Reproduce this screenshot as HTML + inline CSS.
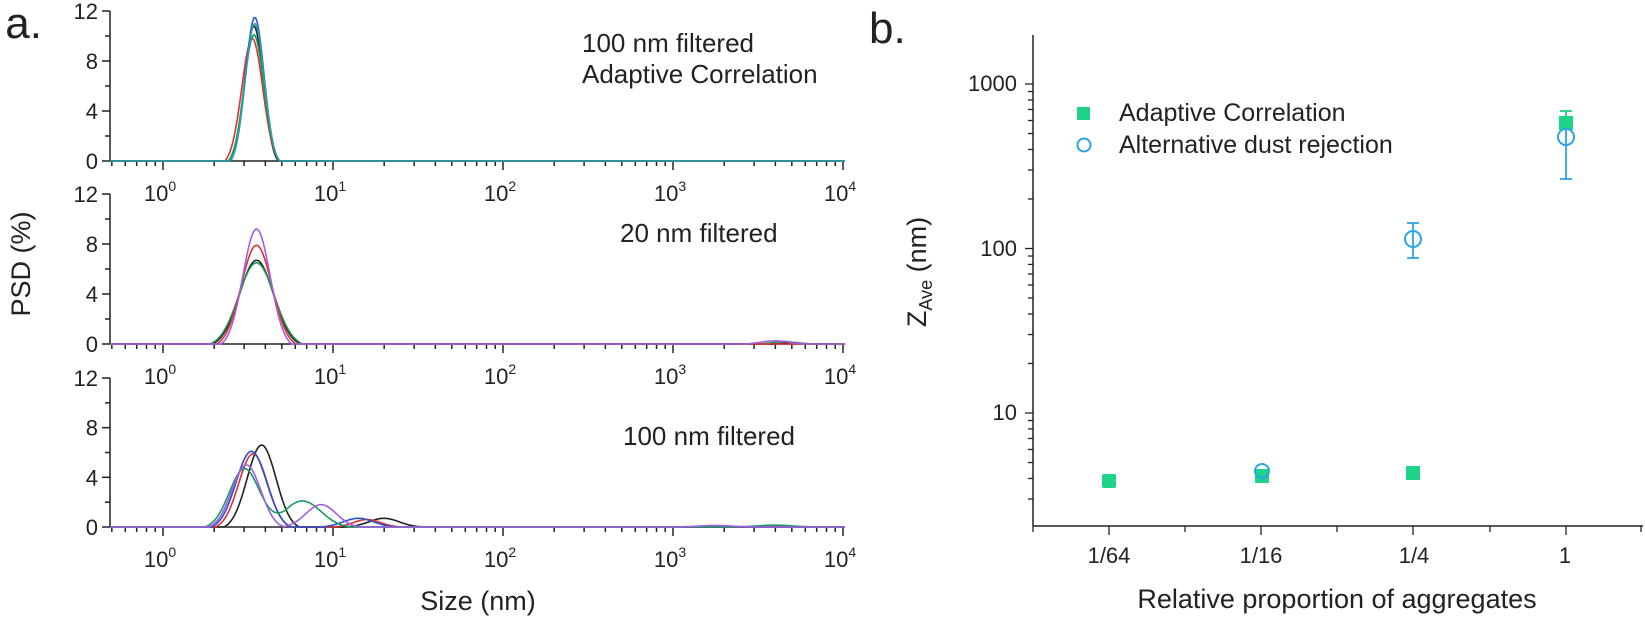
<!DOCTYPE html>
<html><head><meta charset="utf-8"><style>
body{margin:0;background:#fff}
svg{display:block;font-family:"Liberation Sans",Arial,sans-serif}
text{fill:#222}
</style></head><body>
<svg id="s" width="1645" height="623" viewBox="0 0 1645 623" xmlns="http://www.w3.org/2000/svg">
<g id="left" stroke="#222" stroke-width="1.5" fill="none"></g>
<g id="curves" fill="none" stroke-width="1.6"></g>
<g font-size="26">
<text x="42" y="38" font-size="44" text-anchor="end">a.</text>
<text x="869" y="43" font-size="44">b.</text>
<text x="582" y="52">100 nm filtered</text>
<text x="582" y="83">Adaptive Correlation</text>
<text x="620" y="242">20 nm filtered</text>
<text x="623" y="445">100 nm filtered</text>
<text x="478" y="610" font-size="27" text-anchor="middle">Size (nm)</text>
<text transform="translate(30,264) rotate(-90)" font-size="27" text-anchor="middle">PSD (%)</text>
</g>
<g id="ticklabels" font-size="22"></g>
<!-- right panel -->
<g stroke="#222" stroke-width="1.5" fill="none">
<line x1="1033" y1="35" x2="1033" y2="526"/>
<line x1="1033" y1="526" x2="1643" y2="526"/>
</g>
<g id="right" stroke="#222" stroke-width="1.3"></g>
<g font-size="22">
<text x="1017" y="91" text-anchor="end">1000</text>
<text x="1017" y="256" text-anchor="end">100</text>
<text x="1017" y="420" text-anchor="end">10</text>
<text x="1109" y="563" text-anchor="middle">1/64</text>
<text x="1261" y="563" text-anchor="middle">1/16</text>
<text x="1414" y="563" text-anchor="middle">1/4</text>
<text x="1565" y="563" text-anchor="middle">1</text>
<text x="1337" y="608" font-size="27" text-anchor="middle">Relative proportion of aggregates</text>
<text transform="translate(926,272) rotate(-90)" font-size="27" text-anchor="middle">Z<tspan font-size="18" dy="6">Ave</tspan><tspan dy="-6"> (nm)</tspan></text>
<text x="1119" y="121" font-size="25">Adaptive Correlation</text>
<text x="1119" y="153" font-size="25">Alternative dust rejection</text>
</g>
<rect x="1077" y="107" width="13" height="13" fill="#1ed28a"/>
<circle cx="1084" cy="145" r="6.5" fill="none" stroke="#2aa3e8" stroke-width="2"/>
<!-- error bars -->
<g stroke="#2aa3e8" stroke-width="1.8" fill="none">
<line x1="1413" y1="223" x2="1413" y2="258"/><line x1="1407" y1="223" x2="1419" y2="223"/><line x1="1407" y1="258" x2="1419" y2="258"/>
<line x1="1566" y1="120" x2="1566" y2="179"/><line x1="1560" y1="179" x2="1572" y2="179"/>
</g>
<g stroke="#1ed28a" stroke-width="1.8"><line x1="1566" y1="111" x2="1566" y2="123"/><line x1="1560" y1="111" x2="1572" y2="111"/></g>
<g fill="#1ed28a">
<rect x="1102" y="474" width="14" height="14" rx="2"/>
<rect x="1255" y="469" width="14" height="14"/>
<rect x="1406" y="466" width="14" height="14"/>
<rect x="1559" y="116" width="14" height="14"/>
</g>
<g fill="none" stroke="#2aa3e8" stroke-width="2">
<circle cx="1262" cy="471" r="7"/>
<circle cx="1413" cy="239" r="8"/>
<circle cx="1566" cy="137" r="8"/>
</g>
</svg>
<script>
var NS="http://www.w3.org/2000/svg";
function el(p,t,a){var e=document.createElementNS(NS,t);for(var k in a)e.setAttribute(k,a[k]);p.appendChild(e);return e;}
var L=document.getElementById('left'),TL=document.getElementById('ticklabels'),C=document.getElementById('curves'),R=document.getElementById('right');
function X(u){return 163+170*u;}
var panels=[{z:161,t:11},{z:344,t:194},{z:527,t:378}];
panels.forEach(function(p){
 var sc=(p.z-p.t)/12;
 el(L,'line',{x1:110,y1:p.t,x2:110,y2:p.z});
 el(L,'line',{x1:110,y1:p.z,x2:845,y2:p.z});
 for(var v=0;v<=12;v+=2){var y=p.z-v*sc;el(L,'line',{x1:v%4?105:102,y1:y,x2:110,y2:y});
  if(v%4==0){var t=el(TL,'text',{x:98,y:y+8,'text-anchor':'end'});t.textContent=v;}}
 for(var d=-1;d<4;d++)for(var m=1;m<10;m++){var u=d+Math.log10(m);var x=X(u);if(x<110||x>845)continue;
  el(L,'line',{x1:x,y1:p.z,x2:x,y2:p.z+(m==1?9:5)});}
 el(L,'line',{x1:843,y1:p.z,x2:843,y2:p.z+9});
 for(var d=0;d<=4;d++){var t=el(TL,'text',{x:X(d)-3,y:p.z+40,'text-anchor':'middle'});t.innerHTML='10<tspan font-size="14" dy="-10">'+d+'</tspan>';}
});
function curve(p,col,comps,tails){
 var sc=(p.z-p.t)/12,d='';
 for(var x=110;x<=845;x+=1.5){var u=(x-163)/170,v=0;
  comps.forEach(function(c){var z=(u-c[0])/c[2];if(Math.abs(z)<2.6)v+=c[1]*(Math.exp(-z*z/2)-Math.exp(-3.38))/(1-Math.exp(-3.38));});
  (tails||[]).forEach(function(tl){var z=(u-tl[0])/tl[2];if(Math.abs(z)<2)v+=tl[1]*Math.exp(-z*z/2);});
  v=Math.max(v,0);d+=(d?'L':'M')+x.toFixed(1)+','+(p.z-v*sc).toFixed(1);}
 el(C,'path',{d:d,stroke:col});
}
var P=panels;
curve(P[0],'#222',[[0.535,10.8,0.055]]);
curve(P[0],'#e03030',[[0.525,9.8,0.062]]);
curve(P[0],'#1a9a60',[[0.535,10.1,0.058]]);
curve(P[0],'#2a60d0',[[0.54,11.5,0.055]]);
curve(P[0],'#2aa0a0',[[0.54,11.0,0.056]]);
curve(P[1],'#222',[[0.55,6.7,0.1]],[[3.7,0.12,0.05]]);
curve(P[1],'#1a9a50',[[0.55,6.5,0.105]],[[3.65,0.2,0.06]]);
curve(P[1],'#e03030',[[0.55,7.9,0.09]]);
curve(P[1],'#a060e0',[[0.55,9.2,0.08]],[[3.6,0.25,0.08]]);
curve(P[2],'#222',[[0.58,6.6,0.085],[1.3,0.7,0.09]]);
curve(P[2],'#e03030',[[0.53,5.9,0.085],[1.2,0.6,0.08]]);
curve(P[2],'#2a50d0',[[0.52,6.1,0.09],[1.15,0.7,0.09]]);
curve(P[2],'#1a9a60',[[0.48,4.7,0.09],[0.82,2.1,0.11]],[[3.6,0.15,0.1]]);
curve(P[2],'#a060e0',[[0.49,5.0,0.085],[0.93,1.8,0.09]],[[3.25,0.12,0.1]]);
// right axis ticks
for(var d=0;d<4;d++)for(var m=1;m<10;m++){var y=413+164.5*(1-d)-164.5*Math.log10(m);if(y<35||y>526)continue;
 el(R,'line',{x1:m==1?1025:1028,y1:y,x2:1033,y2:y});}
[1033,1109,1185,1261,1337,1413,1490,1566,1641].forEach(function(x,i){el(R,'line',{x1:x,y1:526,x2:x,y2:i%2?535:532});});
</script>
</body></html>
